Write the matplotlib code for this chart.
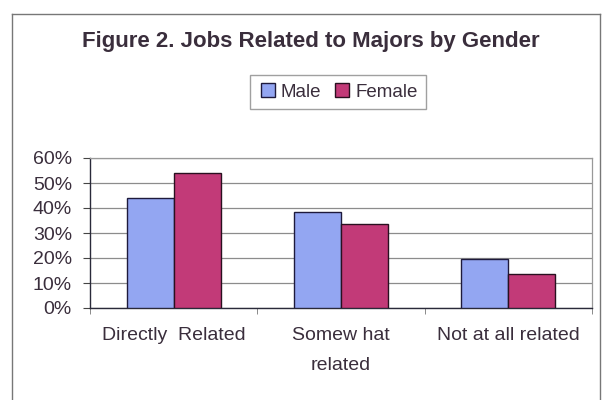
import numpy as np
import matplotlib.pyplot as plt
from matplotlib.lines import Line2D

plt.rcParams['font.family'] = ['Liberation Sans', 'DejaVu Sans']

categories = ['Directly  Related', 'Somew hat\nrelated', 'Not at all related']
male = np.array([44, 38.5, 19.5])
female = np.array([54, 33.5, 13.5])
series_names = ['Male', 'Female']
yticks = [0, 10, 20, 30, 40, 50, 60]

male_color = '#93A6F2'
female_color = '#C23A78'
text_color = '#3A2E3C'

fig = plt.figure(figsize=(6.04, 4.0), dpi=100)
ax = fig.add_axes([90 / 604, 92 / 400, 502 / 604, 150 / 400])

x = np.arange(len(categories))
w = 0.28
ax.bar(x - w / 2, male, w, color=male_color, edgecolor='#1E1A3C', linewidth=1.0, label=series_names[0], zorder=3)
ax.bar(x + w / 2, female, w, color=female_color, edgecolor='#2A1020', linewidth=1.0, label=series_names[1], zorder=3)

ax.set_xlim(-0.5, len(categories) - 0.5)
ax.set_ylim(0, 60)
ax.set_yticks(yticks)
ax.set_yticklabels([f'{v}%' for v in yticks], fontsize=14, color=text_color)
ax.yaxis.grid(True, color='#8C8C8C', linewidth=0.9, zorder=0)

ax.set_xticks(x)
ax.set_xticklabels(categories, fontsize=14, color=text_color, linespacing=2.0)
ax.tick_params(axis='x', length=0, pad=14)
ax.set_xticks(np.arange(len(categories) + 1) - 0.5, minor=True)
ax.tick_params(axis='x', which='minor', length=4, color='#777777')
ax.tick_params(axis='y', length=5, color='#444444', pad=8)

for side in ['top', 'right']:
    ax.spines[side].set_color('#999999')
    ax.spines[side].set_linewidth(0.9)
for side in ['left', 'bottom']:
    ax.spines[side].set_color('#2A2A3A')
    ax.spines[side].set_linewidth(1.0)

fig.text(0.515, 0.895, 'Figure 2. Jobs Related to Majors by Gender', ha='center', va='center',
         fontsize=16, fontweight='bold', color=text_color)

handles = [Line2D([], [], marker='s', linestyle='', markersize=10, markerfacecolor=male_color, markeredgecolor='#1E1A3C'),
           Line2D([], [], marker='s', linestyle='', markersize=10, markerfacecolor=female_color, markeredgecolor='#2A1020')]
leg = fig.legend(handles, series_names, loc='center', bbox_to_anchor=(338 / 604, 1 - 92 / 400), ncol=2,
                 fontsize=13.5, frameon=True, fancybox=False, edgecolor='#888888', handletextpad=0.2,
                 columnspacing=0.6, handlelength=1.0, borderpad=0.45)
for t in leg.get_texts():
    t.set_color(text_color)

# outer chart frame
fig.add_artist(Line2D([12 / 604, 12 / 604], [0, 1 - 14 / 400], color='#777777', linewidth=1.0))
fig.add_artist(Line2D([12 / 604, 600 / 604], [1 - 14 / 400, 1 - 14 / 400], color='#777777', linewidth=1.0))
fig.add_artist(Line2D([600 / 604, 600 / 604], [0, 1 - 14 / 400], color='#777777', linewidth=1.0))

fig.savefig('out.png', dpi=100)
